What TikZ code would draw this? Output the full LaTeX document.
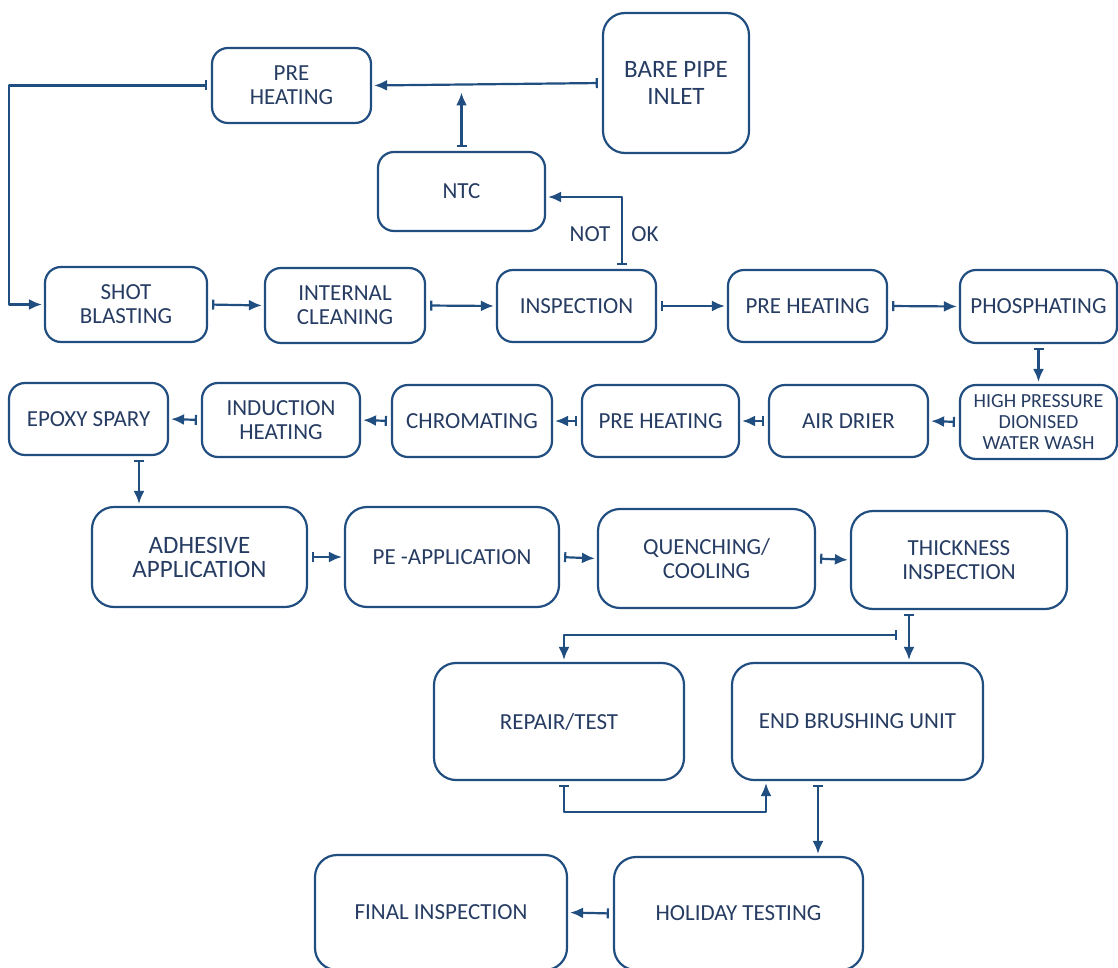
\documentclass[tikz,border=0pt]{standalone}
\usepackage{fontspec}
\setmainfont{Carlito}
\usetikzlibrary{arrows.meta,calc}
\definecolor{lineblue}{RGB}{33,78,128}
\definecolor{textblue}{RGB}{38,60,98}
\begin{document}
\begin{tikzpicture}[x=0.5pt, y=-0.5pt, font=\fontsize{11.5}{12}\selectfont, text=textblue, line join=round,
	box/.style 2 args={draw=lineblue, line width=1.1pt, rounded corners=8pt, align=center, inner sep=0pt, minimum width=#1*0.5pt, minimum height=#2*0.5pt},
	bigbox/.style={rounded corners=11pt},
	flow/.style={draw=lineblue, line width=1.1pt, arrows={Bar[width=5pt]-Latex[length=6.5pt,width=5.5pt]}, shorten <=2pt, shorten >=1pt}]
	\useasboundingbox (0,0) rectangle (1118,968);
	% top part
	\node[box={159}{75}] (preA) at (291.5,85.5) {PRE\\HEATING};
	\node[box={146}{140}, bigbox, font=\fontsize{12.5}{13.5}\selectfont] (bare) at (676,83) {BARE PIPE\\INLET};
	\node[box={167}{79}] (ntc) at (461.5,191.5) {NTC};
	% first row
	\node[box={162}{75}] (shot) at (126,304.5) {SHOT\\BLASTING};
	\node[box={160}{75}] (clean) at (345,305.5) {INTERNAL\\CLEANING};
	\node[box={159}{72}] (insp) at (576.5,306) {INSPECTION};
	\node[box={159}{72}] (preB) at (807.5,306) {PRE HEATING};
	\node[box={157}{73}] (phos) at (1038.5,306.5) {PHOSPHATING};
	% second row
	\node[box={157}{74}, font=\fontsize{10}{10.3}\selectfont] (wash) at (1038.5,422) {HIGH PRESSURE\\DIONISED\\WATER WASH};
	\node[box={159}{72}] (drier) at (848.5,421) {AIR DRIER};
	\node[box={157}{72}] (preC) at (660.5,421) {PRE HEATING};
	\node[box={160}{72}] (chrom) at (472,421) {CHROMATING};
	\node[box={158}{74}] (induct) at (281,420) {INDUCTION\\HEATING};
	\node[box={159}{72}] (epoxy) at (88.5,419) {EPOXY SPARY};
	% third row
	\node[box={215}{100}, bigbox, font=\fontsize{12.5}{12}\selectfont] (adhes) at (199.5,557) {ADHESIVE\\APPLICATION};
	\node[box={214}{100}, bigbox] (peapp) at (452,557) {PE -APPLICATION};
	\node[box={217}{99}, bigbox] (quench) at (706.5,558.5) {QUENCHING/\\COOLING};
	\node[box={216}{98}, bigbox] (thick) at (959,560) {THICKNESS\\INSPECTION};
	% bottom
	\node[box={250}{117}, bigbox] (repair) at (559,721.5) {REPAIR/TEST};
	\node[box={251}{117}, bigbox] (brush) at (857.5,721.5) {END BRUSHING UNIT};
	\node[box={249}{113}, bigbox] (holiday) at (738.5,913.5) {HOLIDAY TESTING};
	\node[box={252}{115}, bigbox] (final) at (441,912.5) {FINAL INSPECTION};
	\node (notlbl) at (590,234) {NOT};
	\node (oklbl) at (645,234) {OK};
	
	\draw[flow] (bare.west)--(preA.east);
	\draw[flow, shorten >=3.5pt] (ntc.north)--(ntc.north |- preA.east);
	\draw[flow] (preA.west)--++(-202,0) |- (shot.west);
	\draw[flow] (shot.east)--(clean.west);
	\draw[flow] (clean.east)--(insp.west);
	\draw[flow] ($(insp.north)+(45.5,0)$) |- ($(ntc.east)+(0,5.5)$);
	\draw[flow] (insp.east)--(preB.west);
	\draw[flow] (preB.east)--(phos.west);
	\draw[flow] (phos.south)--(wash.north);
	\draw[flow] (wash.west)--(drier.east);
	\draw[flow] (drier.west)--(preC.east);
	\draw[flow] (preC.west)--(chrom.east);
	\draw[flow] (chrom.west)--(induct.east);
	\draw[flow] (induct.west)--(epoxy.east);
	\draw[flow] ($(epoxy.south)+(50.5,0)$) coordinate (e1)--(e1 |- adhes.north);
	\draw[flow] (adhes.east)--(peapp.west);
	\draw[flow] (peapp.east)--(quench.west);
	\draw[flow] (quench.east)--(thick.west);
	\draw[flow] ($(thick.south)+(-50,0)$) coordinate (t1)--(t1 |- brush.north);
	\draw[flow] ($(t1)+(-8,25)$) -| ($(repair.north)+(5,0)$);
	\draw[flow] ($(repair.south)+(5,0)$)--++(0,31) -| ($(brush.south)+(-91.5,0)$);
	\draw[flow] ($(brush.south)+(-39.5,0)$) coordinate (b1)--(b1 |- holiday.north);
	\draw[flow] (holiday.west)--(final.east);
\end{tikzpicture}
\end{document}
